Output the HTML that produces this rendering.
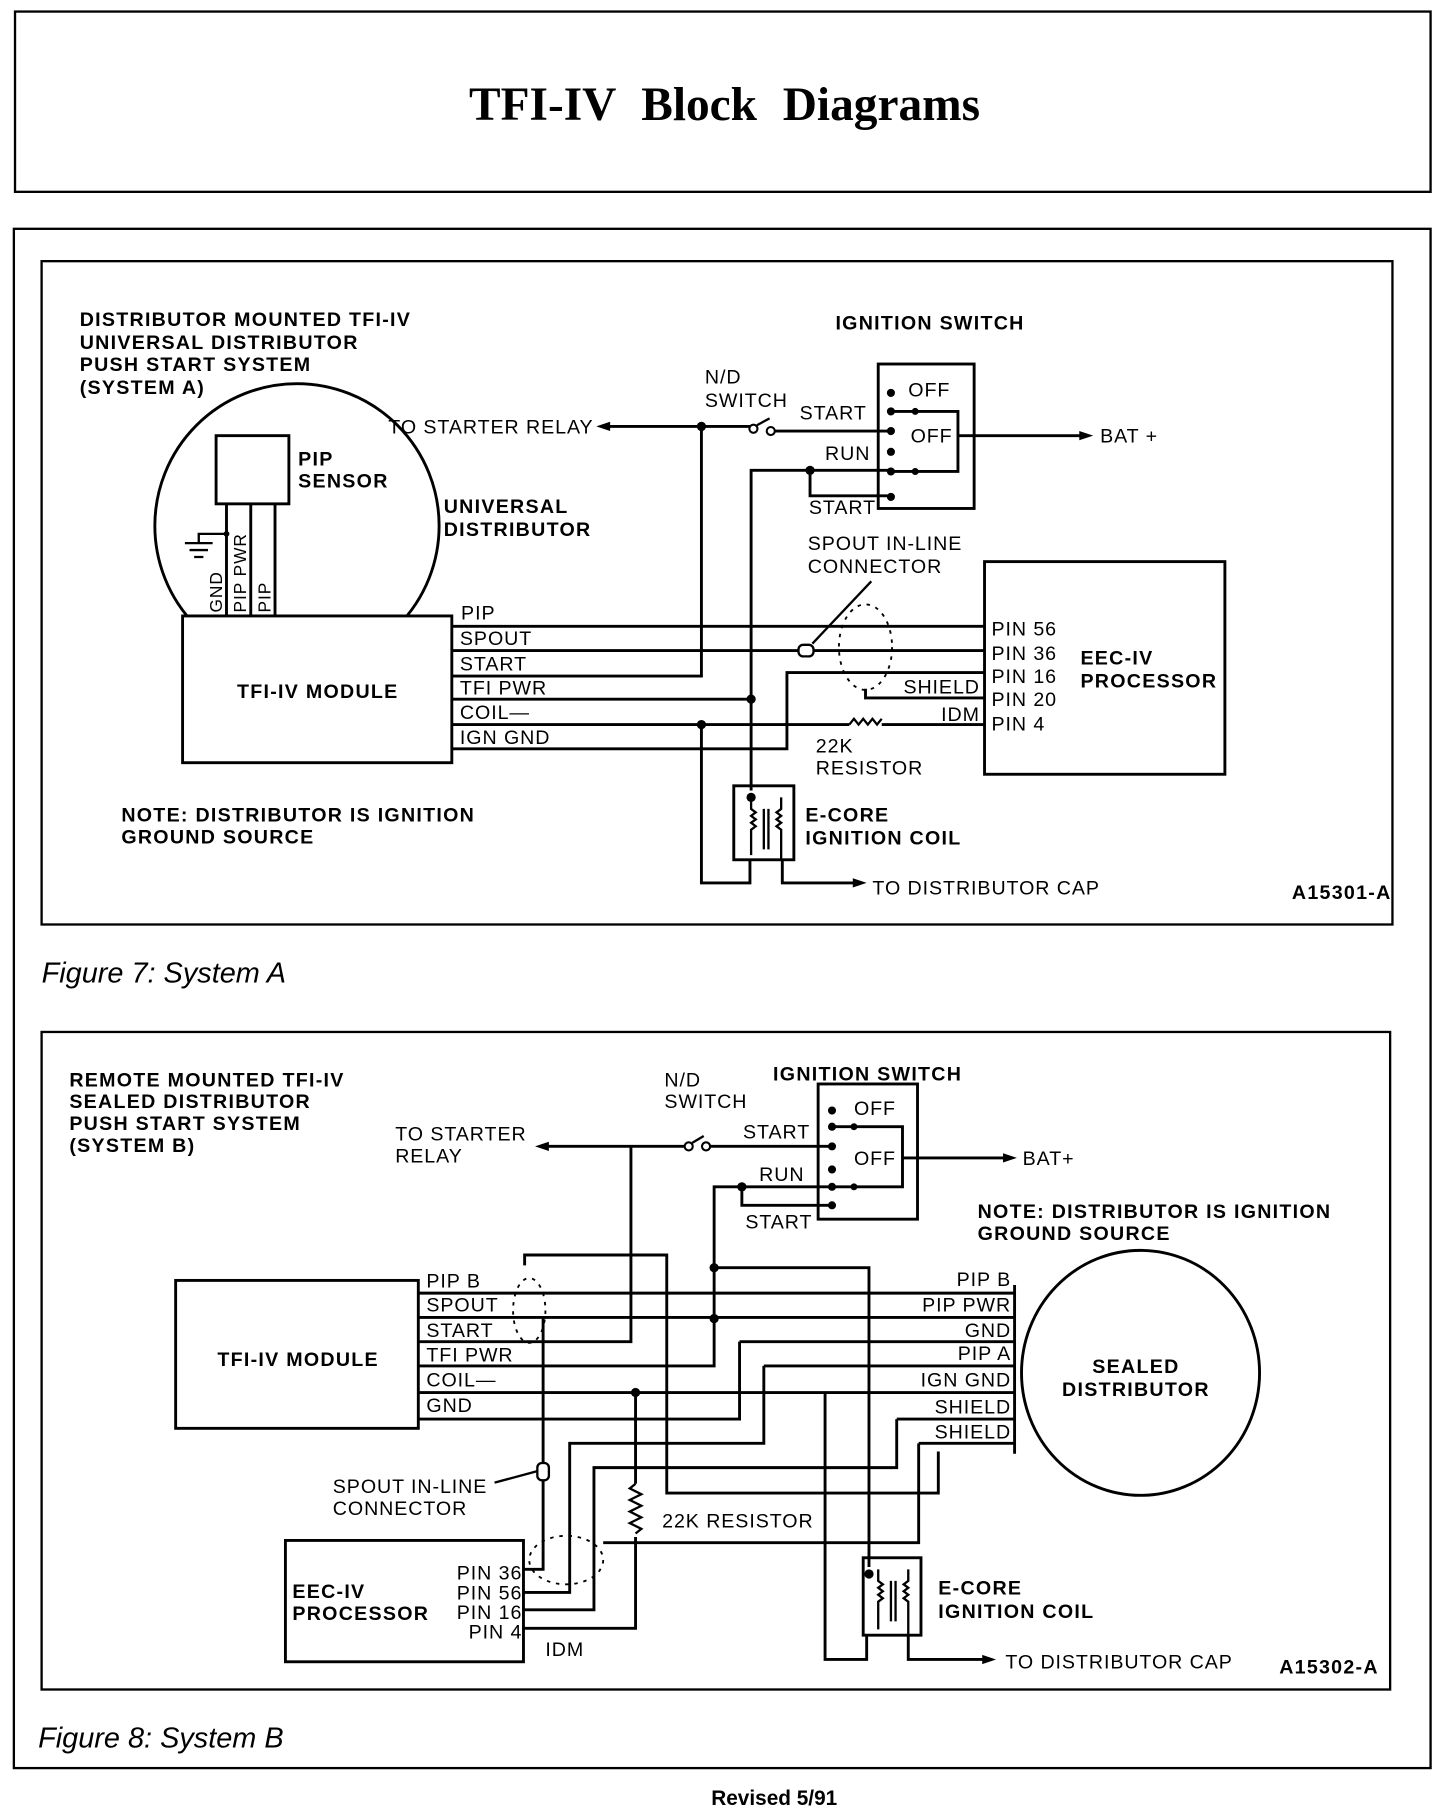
<!DOCTYPE html>
<html><head><meta charset="utf-8"><style>
html,body{margin:0;padding:0;background:#fff;}
svg{display:block;}
text{font-family:"Liberation Sans",sans-serif;fill:#000;}
.b{font-weight:bold;font-size:17px;letter-spacing:1.1px;}
.n{font-size:17px;letter-spacing:0.8px;}
.w{fill:none;stroke:#000;stroke-width:2.5;}
.t{fill:none;stroke:#000;stroke-width:2;}
.d{fill:none;stroke:#000;stroke-width:1.6;stroke-dasharray:3 5;}
</style></head><body>
<svg width="1456" height="1812" viewBox="0 0 1260 1568" preserveAspectRatio="none" xmlns="http://www.w3.org/2000/svg">
<rect x="0" y="0" width="1260" height="1568" fill="#fff"/>
<!-- title -->
<rect x="13" y="10" width="1225" height="156" class="t"/>
<text x="627" y="104" text-anchor="middle" style="font-family:'Liberation Serif',serif;font-weight:bold;font-size:41px;word-spacing:12px">TFI-IV Block Diagrams</text>
<rect x="12" y="198" width="1226" height="1332" class="t"/>

<!-- ============ FIGURE A ============ -->
<rect x="36" y="226" width="1169" height="574" class="t"/>
<text class="b" x="69" y="282">DISTRIBUTOR MOUNTED TFI-IV</text>
<text class="b" x="69" y="302">UNIVERSAL DISTRIBUTOR</text>
<text class="b" x="69" y="321">PUSH START SYSTEM</text>
<text class="b" x="69" y="341">(SYSTEM A)</text>
<text class="b" x="723" y="285">IGNITION SWITCH</text>
<circle cx="257" cy="455" r="123" class="w"/>
<rect x="158" y="533" width="233" height="127" fill="#fff" stroke="#000" stroke-width="2.5"/>
<text class="b" x="275" y="604" text-anchor="middle">TFI-IV MODULE</text>
<rect x="187" y="377" width="63" height="59" fill="#fff" stroke="#000" stroke-width="2.5"/>
<text class="b" x="258" y="403">PIP</text><text class="b" x="258" y="422">SENSOR</text>
<path class="w" d="M196 436V533M217 436V533M238 436V533"/>
<path class="t" d="M196 462H172V470M160 470H184M164 476H180M168 482H176"/>
<circle cx="196" cy="462" r="2.5"/>
<text class="n" transform="translate(192,530) rotate(-90)" style="font-size:15px">GND</text>
<text class="n" transform="translate(213,530) rotate(-90)" style="font-size:15px">PIP PWR</text>
<text class="n" transform="translate(234,530) rotate(-90)" style="font-size:15px">PIP</text>
<text class="b" x="384" y="444">UNIVERSAL</text><text class="b" x="384" y="464">DISTRIBUTOR</text>
<text class="b" x="105" y="711">NOTE: DISTRIBUTOR IS IGNITION</text>
<text class="b" x="105" y="730">GROUND SOURCE</text>
<!-- wire labels -->
<text class="n" x="399" y="536">PIP</text>
<text class="n" x="398" y="558">SPOUT</text>
<text class="n" x="398" y="580">START</text>
<text class="n" x="398" y="601">TFI PWR</text>
<text class="n" x="398" y="622">COIL—</text>
<text class="n" x="398" y="644">IGN GND</text>
<!-- wires -->
<path class="w" d="M391 542H852M391 563H692M702 563H852M391 585H607V369M391 605H650M391 627H735M763 627H852M391 648H681V582H852"/>
<path class="t" d="M735 627l4-5 4 5 4-5 4 5 4-5 4 5 4-5"/>
<path class="w" d="M650 684V407H771M701 407V429H771M607 627V764H649V744"/>
<path class="w" d="M749 596V604H852"/>
<path class="w" d="M607 369H525M607 369H650M667 373H771"/>
<path d="M516 369l12-4v8z"/>
<circle cx="652" cy="371" r="3.5" fill="#fff" stroke="#000" stroke-width="1.8"/>
<circle cx="667" cy="373" r="3.5" fill="#fff" stroke="#000" stroke-width="1.8"/>
<path class="t" d="M655 368L666 362"/>
<g fill="#000"><circle cx="607" cy="369" r="4"/><circle cx="650" cy="605" r="4"/><circle cx="607" cy="627" r="4"/><circle cx="701" cy="407" r="4"/><circle cx="650" cy="690" r="4"/></g>
<text class="n" x="336" y="375">TO STARTER RELAY</text>
<text class="n" x="610" y="332">N/D</text><text class="n" x="610" y="352">SWITCH</text>
<text class="n" x="692" y="363">START</text>
<text class="n" x="714" y="398">RUN</text>
<text class="n" x="700" y="445">START</text>
<!-- switch -->
<rect x="760" y="315" width="83" height="125" class="w"/>
<g fill="#000"><circle cx="771" cy="340" r="3.5"/><circle cx="771" cy="356" r="3.5"/><circle cx="771" cy="373" r="3.5"/><circle cx="771" cy="391" r="3.5"/><circle cx="771" cy="408" r="3.5"/><circle cx="771" cy="430" r="3.5"/><circle cx="792" cy="356" r="3"/><circle cx="792" cy="408" r="3"/></g>
<path class="w" d="M771 356H829V408H771M829 377H938"/>
<path d="M946 377l-12-4v8z"/>
<text class="n" x="786" y="343">OFF</text><text class="n" x="788" y="383">OFF</text>
<text class="n" x="952" y="383">BAT +</text>
<!-- spout connector -->
<text class="n" x="699" y="476">SPOUT IN-LINE</text><text class="n" x="699" y="496">CONNECTOR</text>
<path class="t" d="M703 557L754 503"/>
<rect x="691" y="558" width="13" height="10" rx="4" fill="#fff" stroke="#000" stroke-width="2"/>
<ellipse cx="749" cy="560" rx="23" ry="37" class="d"/>
<!-- EEC -->
<rect x="852" y="486" width="208" height="184" class="w"/>
<text class="n" x="858" y="550">PIN 56</text><text class="n" x="858" y="571">PIN 36</text><text class="n" x="858" y="591">PIN 16</text><text class="n" x="858" y="611">PIN 20</text><text class="n" x="858" y="632">PIN 4</text>
<text class="b" x="935" y="575">EEC-IV</text><text class="b" x="935" y="595">PROCESSOR</text>
<text class="n" x="848" y="600" text-anchor="end">SHIELD</text>
<text class="n" x="848" y="624" text-anchor="end">IDM</text>
<text class="n" x="706" y="651">22K</text><text class="n" x="706" y="670">RESISTOR</text>
<!-- coil A -->
<rect x="635" y="680" width="52" height="64" class="w"/>
<path class="t" d="M650 690V700l4 3-4 3 4 3-4 3 4 3-4 3V740M661 700V735M665 700V735M676 690V700l-4 3 4 3-4 3 4 3-4 3 4 3V744"/>
<path class="w" d="M677 744V764H740"/>
<path d="M750 764l-12-4v8z"/>
<text class="b" x="697" y="711">E-CORE</text><text class="b" x="697" y="731">IGNITION COIL</text>
<text class="n" x="755" y="774">TO DISTRIBUTOR CAP</text>
<text class="b" x="1118" y="778">A15301-A</text>
<text x="36" y="850" style="font-style:italic;font-size:25px">Figure 7: System A</text>

<!-- ============ FIGURE B ============ -->
<rect x="36" y="893" width="1167" height="569" class="t"/>
<text class="b" x="60" y="940">REMOTE MOUNTED TFI-IV</text>
<text class="b" x="60" y="959">SEALED DISTRIBUTOR</text>
<text class="b" x="60" y="978">PUSH START SYSTEM</text>
<text class="b" x="60" y="997">(SYSTEM B)</text>
<text class="b" x="669" y="935">IGNITION SWITCH</text>
<text class="n" x="342" y="987">TO STARTER</text><text class="n" x="342" y="1006">RELAY</text>
<text class="n" x="575" y="940">N/D</text><text class="n" x="575" y="959">SWITCH</text>
<text class="n" x="643" y="985">START</text>
<text class="n" x="657" y="1022">RUN</text>
<text class="n" x="645" y="1063">START</text>
<text class="b" x="846" y="1054">NOTE: DISTRIBUTOR IS IGNITION</text>
<text class="b" x="846" y="1073">GROUND SOURCE</text>
<!-- switch B -->
<rect x="708" y="938" width="86" height="117" class="w"/>
<g fill="#000"><circle cx="720" cy="961" r="3.5"/><circle cx="720" cy="975" r="3.5"/><circle cx="720" cy="992" r="3.5"/><circle cx="720" cy="1012" r="3.5"/><circle cx="720" cy="1027" r="3.5"/><circle cx="720" cy="1043" r="3.5"/><circle cx="739" cy="975" r="3"/><circle cx="739" cy="1027" r="3"/></g>
<path class="w" d="M720 975H781V1027H720M781 1002H872"/>
<path d="M880 1002l-12-4v8z"/>
<text class="n" x="739" y="965">OFF</text><text class="n" x="739" y="1008">OFF</text>
<text class="n" x="885" y="1008">BAT+</text>
<path class="w" d="M720 992H611M592 992H472"/>
<path d="M463 992l12-4v8z"/>
<circle cx="596" cy="992" r="3.5" fill="#fff" stroke="#000" stroke-width="1.8"/>
<circle cx="611" cy="992" r="3.5" fill="#fff" stroke="#000" stroke-width="1.8"/>
<path class="t" d="M599 989L609 983"/>
<!-- module B -->
<rect x="152" y="1108" width="210" height="128" class="w"/>
<text class="b" x="258" y="1182" text-anchor="middle">TFI-IV MODULE</text>
<text class="n" x="369" y="1114">PIP B</text>
<text class="n" x="369" y="1135">SPOUT</text>
<text class="n" x="369" y="1157">START</text>
<text class="n" x="369" y="1178">TFI PWR</text>
<text class="n" x="369" y="1200">COIL—</text>
<text class="n" x="369" y="1222">GND</text>
<!-- wires B -->
<path class="w" d="M362 1119H878M362 1140H878M362 1161H546V992M362 1182H618V1027H720M642 1027V1043H720M618 1097H752V1356M640 1161H878M362 1228H640V1161M661 1182H878M661 1182V1249H493V1378H453M362 1205H878M714 1205V1436H750V1415M550 1205V1284M550 1330V1409H453M776 1228H878M776 1228V1270H514V1393H453M795 1249H878M795 1249V1335H522M812 1256V1292H577V1086H454V1095M470 1140V1358H453"/>
<path class="t" d="M550 1284l-5 4 10 5-10 5 10 5-10 5 10 5-10 5 10 5-5 4"/>
<g fill="#000"><circle cx="618" cy="1097" r="4"/><circle cx="618" cy="1141" r="4"/><circle cx="642" cy="1027" r="4"/><circle cx="550" cy="1205" r="4"/><circle cx="752" cy="1362" r="4"/></g>
<ellipse cx="458" cy="1134" rx="14" ry="28" class="d"/>
<ellipse cx="490" cy="1350" rx="32" ry="21" class="d"/>
<rect x="465" y="1266" width="10" height="15" rx="4" fill="#fff" stroke="#000" stroke-width="2"/>
<path class="t" d="M428 1283L465 1273"/>
<text class="n" x="288" y="1292">SPOUT IN-LINE</text><text class="n" x="288" y="1311">CONNECTOR</text>
<text class="n" x="573" y="1322">22K RESISTOR</text>
<!-- sealed distributor -->
<ellipse cx="987" cy="1188" rx="103" ry="106" class="w"/>
<path class="w" d="M878 1112V1258"/>
<text class="b" x="983" y="1188" text-anchor="middle">SEALED</text>
<text class="b" x="983" y="1208" text-anchor="middle">DISTRIBUTOR</text>
<text class="n" x="875" y="1113" text-anchor="end">PIP B</text>
<text class="n" x="875" y="1135" text-anchor="end">PIP PWR</text>
<text class="n" x="875" y="1157" text-anchor="end">GND</text>
<text class="n" x="875" y="1177" text-anchor="end">PIP A</text>
<text class="n" x="875" y="1200" text-anchor="end">IGN GND</text>
<text class="n" x="875" y="1223" text-anchor="end">SHIELD</text>
<text class="n" x="875" y="1245" text-anchor="end">SHIELD</text>
<!-- EEC B -->
<rect x="247" y="1333" width="206" height="105" class="w"/>
<text class="b" x="253" y="1383">EEC-IV</text><text class="b" x="253" y="1402">PROCESSOR</text>
<text class="n" x="452" y="1367" text-anchor="end">PIN 36</text>
<text class="n" x="452" y="1384" text-anchor="end">PIN 56</text>
<text class="n" x="452" y="1401" text-anchor="end">PIN 16</text>
<text class="n" x="452" y="1418" text-anchor="end">PIN 4</text>
<text class="n" x="472" y="1433">IDM</text>
<!-- coil B -->
<rect x="747" y="1348" width="50" height="67" class="w"/>
<path class="t" d="M760 1358V1368l4 3-4 3 4 3-4 3 4 3-4 3V1410M771 1368V1403M775 1368V1403M786 1358V1368l-4 3 4 3-4 3 4 3-4 3 4 3V1415"/>
<path class="w" d="M786 1415V1436H852"/>
<path d="M862 1436l-12-4v8z"/>
<text class="b" x="812" y="1380">E-CORE</text><text class="b" x="812" y="1400">IGNITION COIL</text>
<text class="n" x="870" y="1444">TO DISTRIBUTOR CAP</text>
<text class="b" x="1107" y="1448">A15302-A</text>
<text x="33" y="1512" style="font-style:italic;font-size:25px">Figure 8: System B</text>
<text x="670" y="1562" text-anchor="middle" style="font-weight:bold;font-size:18px">Revised 5/91</text>
</svg>
</body></html>
